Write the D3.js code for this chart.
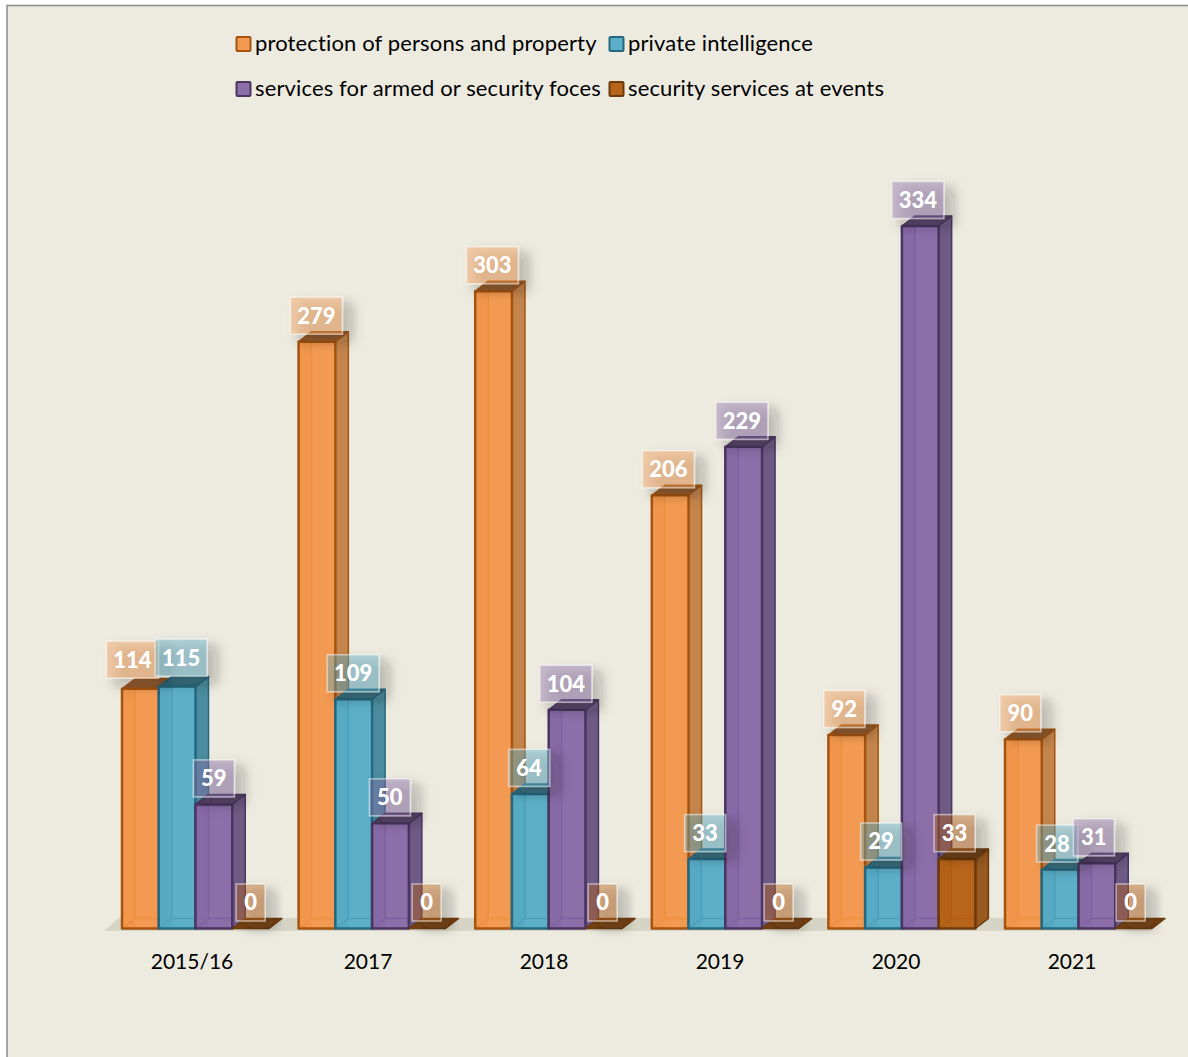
<!DOCTYPE html>
<html>
<head>
<meta charset="utf-8">
<script src="https://cdn.jsdelivr.net/npm/d3@7/dist/d3.min.js"></script>
<style>
  body { margin: 0; background: #fff; }
  svg { display: block; }
  text { font-family: Lato, "Open Sans", sans-serif; }
</style>
</head>
<body>
<div id="chart"></div>
<script>
// values
var years = ["2015/16", "2017", "2018", "2019", "2020", "2021"];
var protection = [114, 279, 303, 206, 92, 90];
var intelligence = [115, 109, 64, 33, 29, 28];
var services = [59, 50, 104, 229, 334, 31];
var events = [0, 0, 0, 0, 33, 0];

var seriesNames = ["protection of persons and property", "private intelligence",
  "services for armed or security foces", "security services at events"];
var seriesValues = [protection, intelligence, services, events];

var colors = [
  { front: "#f39a52", side: "#c4854c", top: "#93592a", line: "#a5540f", soft: "#ee8f3e" },
  { front: "#5cafc9", side: "#4b8c9f", top: "#366f80", line: "#26687f", soft: "#4ba0ba" },
  { front: "#8c6ea9", side: "#6f5a86", top: "#584268", line: "#4a3560", soft: "#7d61a0" },
  { front: "#b8651c", side: "#985a20", top: "#6e3d12", line: "#6d3a0c", soft: "#b05c12" }
];

var svgWidth = 1188, svgHeight = 1057;
var depthX = 13, depthY = 10;

var svg = d3.select("#chart").append("svg")
  .attr("width", svgWidth)
  .attr("height", svgHeight);

var defs = svg.append("defs");
defs.append("filter").attr("id", "labelShadow")
  .attr("x", "-40%").attr("y", "-40%").attr("width", "200%").attr("height", "200%")
  .append("feDropShadow")
  .attr("dx", 9).attr("dy", 7).attr("stdDeviation", 6)
  .attr("flood-color", "#222").attr("flood-opacity", 0.6);

// frame
svg.append("rect")
  .attr("x", 7).attr("y", 5.5)
  .attr("width", svgWidth + 20).attr("height", svgHeight + 20)
  .attr("fill", "#edebe0")
  .attr("stroke", "#8c8c8c")
  .attr("stroke-width", 1.5);

// the bars run on a slightly wider step than the category and value labels
var xGroup = d3.scaleBand().domain(years).range([104, 1163.6]);
var xLabel = d3.scaleBand().domain(years).range([104, 1160]);
var xBar = d3.scaleBand().domain(d3.range(4)).range([18, 165]);
var y = d3.scaleLinear().domain([0, 334]).range([928.5, 226]);

// floor
svg.append("path")
  .attr("d", d3.line()([[104, 931], [1150, 931], [1150 + depthX + 2, 918], [104 + depthX + 2, 918]]) + "Z")
  .attr("fill", "#d6d4c4");

function poly(pts) { return d3.line()(pts) + "Z"; }

// one record per bar, in drawing order
var bars = [];
years.forEach(function(year, g) {
  seriesValues.forEach(function(values, s) {
    bars.push({ year: year, series: s, value: values[g] });
  });
});

var barGroups = svg.append("g").selectAll("g")
  .data(bars)
  .enter()
  .append("g")
  .attr("stroke-linejoin", "round");

barGroups.each(function(d) {
  var g = d3.select(this);
  var c = colors[d.series];
  var x0 = xGroup(d.year) + xBar(d.series);
  var x1 = x0 + xBar.bandwidth();
  var yb = y(0), yt = y(d.value);

  if (d.value === 0) {
    // zero bars collapse to just the lid
    g.append("path")
      .attr("d", poly([[x0, yb], [x1, yb], [x1 + depthX, yb - depthY], [x0 + depthX, yb - depthY]]))
      .attr("fill", "#7a4312")
      .attr("stroke", "#6d3a0c")
      .attr("stroke-width", 1.5);
    return;
  }

  g.append("path")
    .attr("d", poly([[x1, yb], [x1 + depthX, yb - depthY], [x1 + depthX, yt - depthY], [x1, yt]]))
    .attr("fill", c.side).attr("stroke", c.line).attr("stroke-width", 1.5);
  g.append("rect")
    .attr("x", x0).attr("y", yt)
    .attr("width", x1 - x0).attr("height", yb - yt)
    .attr("fill", c.front);
  // back edges showing through the front
  g.append("path")
    .attr("d", d3.line()([[x0 + depthX, yt], [x0 + depthX, yb - depthY], [x1, yb - depthY]]))
    .attr("fill", "none").attr("stroke", c.soft).attr("stroke-width", 1.5);
  g.append("path")
    .attr("d", d3.line()([[x0, yb], [x0 + depthX, yb - depthY]]))
    .attr("fill", "none").attr("stroke", c.soft).attr("stroke-width", 1.5);
  g.append("rect")
    .attr("x", x0).attr("y", yt)
    .attr("width", depthX).attr("height", yb - yt)
    .attr("fill", c.soft).attr("opacity", 0.35);
  g.append("path")
    .attr("d", poly([[x0, yt], [x1, yt], [x1 + depthX, yt - depthY], [x0 + depthX, yt - depthY]]))
    .attr("fill", c.top).attr("stroke", c.line).attr("stroke-width", 1.5);
  g.append("rect")
    .attr("x", x0).attr("y", yt)
    .attr("width", x1 - x0).attr("height", yb - yt)
    .attr("fill", "none").attr("stroke", c.line).attr("stroke-width", 2.5);
});

// category axis
var axisG = svg.append("g")
  .attr("transform", "translate(0, 949)")
  .call(d3.axisBottom(xLabel).tickSize(0).tickPadding(0));
axisG.select(".domain").remove();
axisG.selectAll("text")
  .attr("fill", "#000")
  .attr("dy", "0.95em")
  .style("font-size", "21px")
  .style("font-family", "Lato, sans-serif");

// data labels
function labelNudge(d) {
  // first group's two tall bars push their labels apart
  if (d.year === years[0] && d.series === 0) return { x: -8, y: -3 };
  if (d.year === years[0] && d.series === 1) return { x: 4, y: -3 };
  return { x: 0, y: 0 };
}

var labels = svg.append("g").selectAll("g")
  .data(bars)
  .enter()
  .append("g")
  .attr("transform", function(d) {
    var n = labelNudge(d);
    var cx = xLabel(d.year) + xBar(d.series) + xBar.bandwidth() / 2 + n.x;
    return "translate(" + cx + "," + (y(d.value) - 26 + n.y) + ")";
  });

function labelWidth(d) {
  var digits = String(d.value).length;
  return digits === 3 ? 52 : digits === 2 ? 41 : 29;
}

labels.append("rect")
  .attr("x", function(d) { return -labelWidth(d) / 2; })
  .attr("y", -18.5)
  .attr("width", labelWidth)
  .attr("height", 37)
  .attr("fill", function(d) { return colors[d.series].front; })
  .attr("fill-opacity", 0.4)
  .attr("stroke", "#fff")
  .attr("stroke-opacity", 0.5)
  .attr("stroke-width", 1.5)
  .attr("filter", "url(#labelShadow)");

labels.append("text")
  .attr("text-anchor", "middle")
  .attr("dy", "0.36em")
  .attr("fill", "#fff")
  .attr("font-weight", "900")
  .attr("font-size", 22)
  .text(function(d) { return d.value; });

// legend
var legendPos = [[236, 44], [609, 44], [236, 89], [609, 89]];
var legend = svg.append("g").selectAll("g")
  .data(seriesNames)
  .enter()
  .append("g")
  .attr("transform", function(d, i) { return "translate(" + legendPos[i][0] + "," + legendPos[i][1] + ")"; });

legend.append("rect")
  .attr("x", 0.5).attr("y", -7)
  .attr("width", 14).attr("height", 14)
  .attr("rx", 1)
  .attr("fill", function(d, i) { return colors[i].front; })
  .attr("stroke", function(d, i) { return colors[i].line; })
  .attr("stroke-width", 2);

legend.append("text")
  .attr("x", 19)
  .attr("y", -1)
  .attr("dy", "0.35em")
  .attr("fill", "#000")
  .attr("font-size", 22)
  .attr("letter-spacing", 0.14)
  .text(function(d) { return d; });
</script>
</body>
</html>
